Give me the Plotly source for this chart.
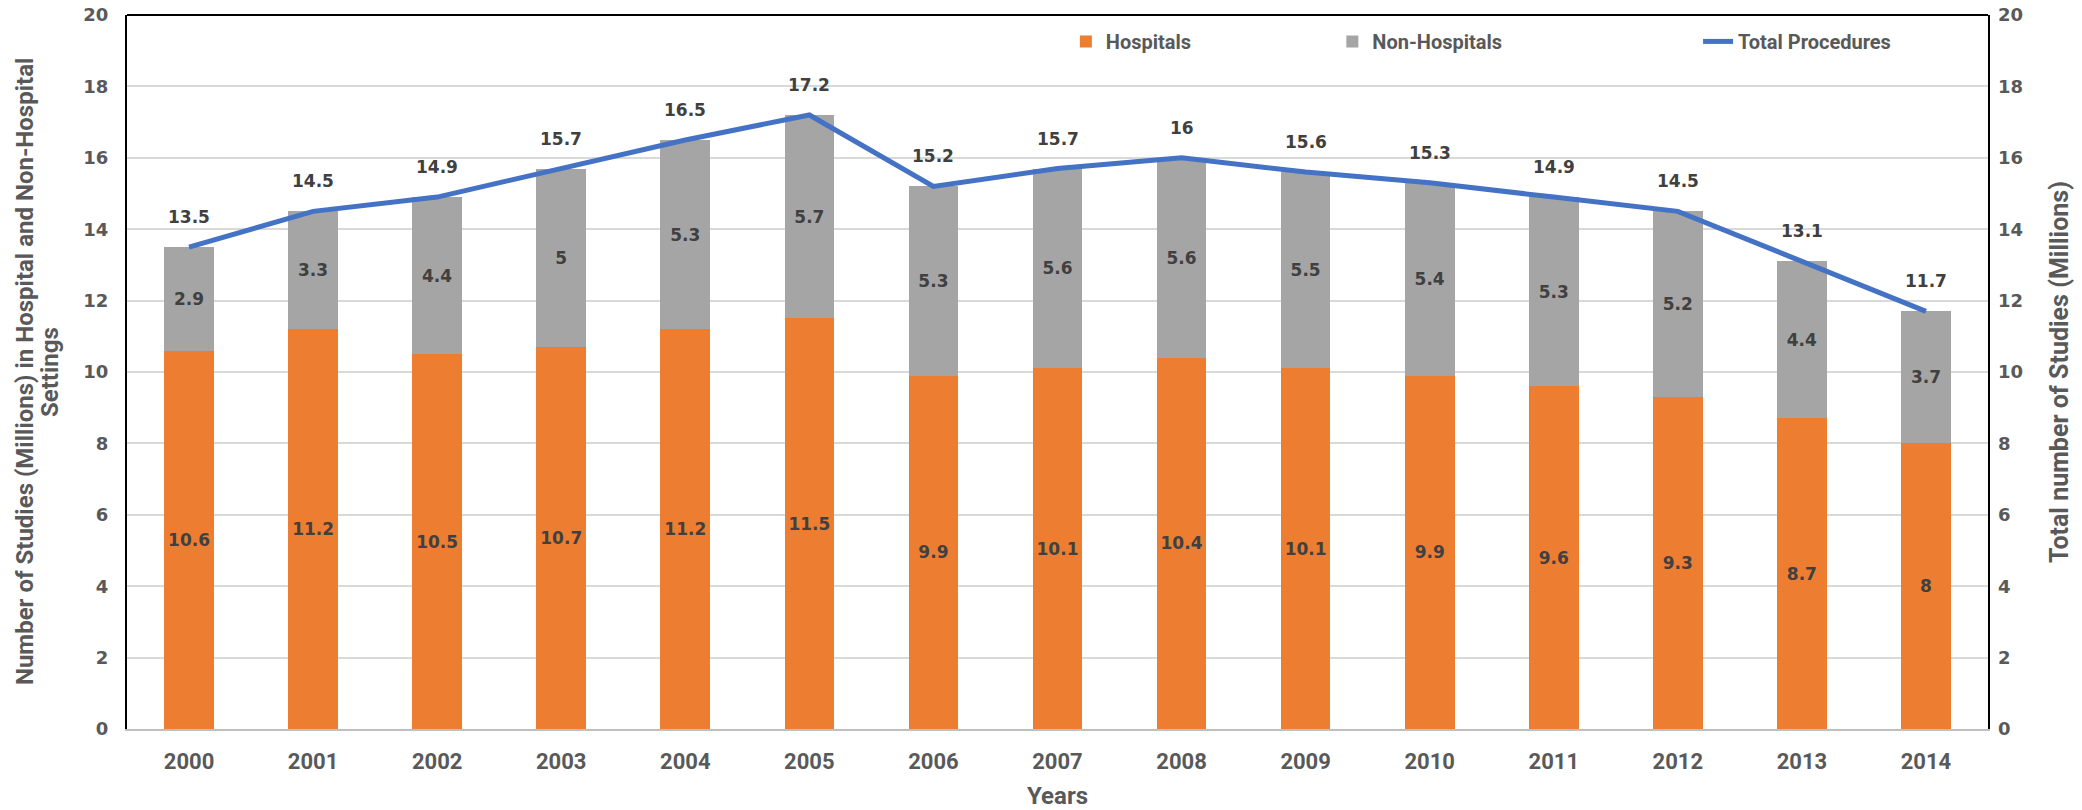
import plotly.graph_objects as go

# Imaging studies by setting, 2000-2014 (millions)
years = ["2000", "2001", "2002", "2003", "2004", "2005", "2006", "2007",
         "2008", "2009", "2010", "2011", "2012", "2013", "2014"]
hospitals = [10.6, 11.2, 10.5, 10.7, 11.2, 11.5, 9.9, 10.1, 10.4, 10.1, 9.9, 9.6, 9.3, 8.7, 8]
non_hospitals = [2.9, 3.3, 4.4, 5, 5.3, 5.7, 5.3, 5.6, 5.6, 5.5, 5.4, 5.3, 5.2, 4.4, 3.7]
total_procedures = [13.5, 14.5, 14.9, 15.7, 16.5, 17.2, 15.2, 15.7, 16, 15.6, 15.3, 14.9, 14.5, 13.1, 11.7]
y_ticks = [0, 2, 4, 6, 8, 10, 12, 14, 16, 18, 20]
left_title_lines = ["Number of Studies (Millions) in Hospital and Non-Hospital", "Settings"]

ORANGE = "#ED7D31"
GRAY = "#A5A5A5"
BLUE = "#4472C4"
TEXT = "#595959"
LABEL = "#404040"
NARROW = "Roboto, sans-serif"
WIDE = "DejaVu Sans, Verdana, sans-serif"


def fmt(v):
    return f"{v:g}"


label_font = dict(family=WIDE, size=17, color=LABEL, weight="bold")

fig = go.Figure()

fig.add_trace(go.Bar(
    x=years, y=hospitals, name="Hospitals",
    marker=dict(color=ORANGE, line=dict(width=0)),
    text=[fmt(v) for v in hospitals], textposition="inside",
    insidetextanchor="middle", textangle=0, constraintext="none",
    textfont=label_font, legend="legend",
))
fig.add_trace(go.Bar(
    x=years, y=non_hospitals, name="Non-Hospitals",
    marker=dict(color=GRAY, line=dict(width=0)),
    text=[fmt(v) for v in non_hospitals], textposition="inside",
    insidetextanchor="middle", textangle=0, constraintext="none",
    textfont=label_font, legend="legend2",
))
fig.add_trace(go.Scatter(
    x=years, y=total_procedures, name="Total Procedures", yaxis="y2",
    mode="lines", line=dict(color=BLUE, width=5),
    legend="legend3",
))

# value labels above the total line (category index positions)
for i, v in enumerate(total_procedures):
    fig.add_annotation(
        x=i, y=v, xref="x", yref="y2", yshift=30, showarrow=False,
        text=fmt(v), font=label_font,
    )

title_font = dict(family=NARROW, size=24, color=TEXT, weight="bold")
tick_font = dict(family=WIDE, size=18, color=TEXT, weight="bold")

# two-line left axis title, set with tighter line spacing than the built-in title
for line, shift in zip(left_title_lines, [-102, -77]):
    fig.add_annotation(
        x=0, y=0.5, xref="paper", yref="paper", xshift=shift,
        xanchor="center", yanchor="middle", textangle=-90, showarrow=False,
        text=line, font=title_font,
    )

legend_font = dict(family=NARROW, size=20, color=TEXT, weight="bold")
legend_common = dict(orientation="h", yanchor="middle", xanchor="left",
                     bgcolor="rgba(0,0,0,0)", font=legend_font)

fig.update_layout(
    width=2082, height=810, autosize=False,
    margin=dict(l=127, r=94, t=15, b=81),
    paper_bgcolor="white", plot_bgcolor="white",
    barmode="stack", bargap=0.6,
    showlegend=True,
    legend=dict(x=0.5045, y=0.963, **legend_common),
    legend2=dict(x=0.6477, y=0.963, **legend_common),
    legend3=dict(x=0.8442, y=0.963, **legend_common),
    xaxis=dict(
        type="category", range=[-0.5, len(years) - 0.5], automargin=False,
        showline=True, linecolor="#BFBFBF", linewidth=2,
        showgrid=False, ticks="", ticklabelstandoff=12,
        tickfont=dict(family=NARROW, size=22, color=TEXT, weight="bold"),
        title=dict(text="Years", standoff=15, font=title_font),
    ),
    yaxis=dict(
        range=[0, 20], tickvals=y_ticks, showgrid=True, gridcolor="#D9D9D9",
        gridwidth=1.5, zeroline=False, showline=True, linecolor="black",
        linewidth=2, mirror=True, ticks="", ticklabelstandoff=13,
        tickfont=tick_font, automargin=False,
    ),
    yaxis2=dict(
        range=[0, 20], tickvals=y_ticks, overlaying="y", side="right",
        showgrid=False, zeroline=False, showline=False, ticks="",
        ticklabelstandoff=9, tickfont=tick_font, automargin=False,
        title=dict(text="Total number of Studies (Millions)", standoff=28,
                   font=dict(family=NARROW, size=25, color=TEXT, weight="bold")),
    ),
    shapes=[dict(type="line", xref="paper", yref="paper", x0=0, x1=1, y0=1, y1=1,
                 line=dict(color="black", width=2))],
)

fig.write_html("out.html")
